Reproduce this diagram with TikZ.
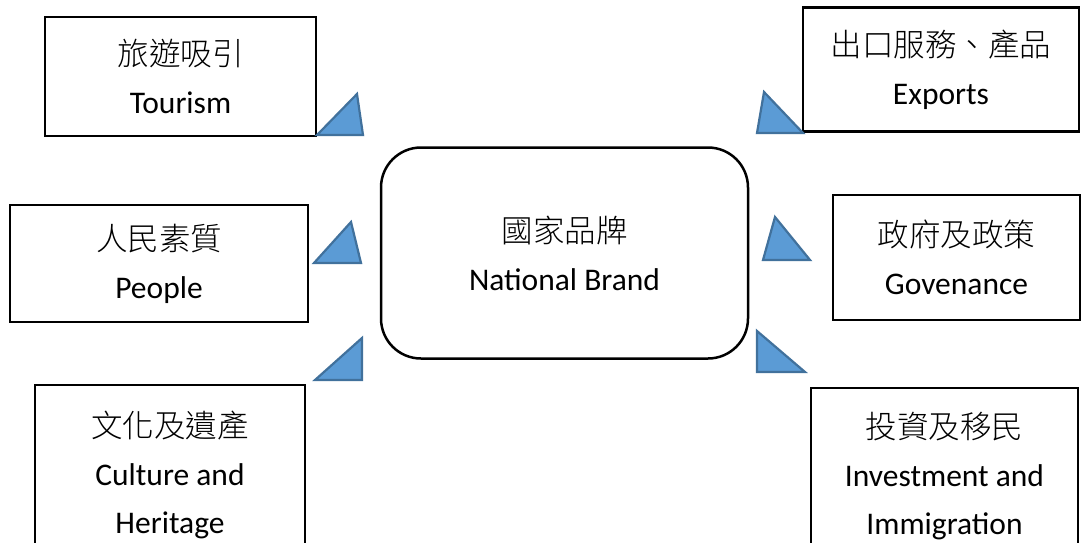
\documentclass[tikz,border=0pt]{standalone}
\usepackage{fontspec}
\setmainfont{Carlito}
\newfontfamily\cjk{Noto Sans CJK TC}[UprightFont=* Light]
\definecolor{trifill}{HTML}{5B9BD5}
\definecolor{tridraw}{HTML}{41719C}
\begin{document}
\begin{tikzpicture}[x=1pt,y=-1pt,
  box/.style={draw=black,line width=2.5pt,fill=white,inner sep=0pt,align=center,
    font=\fontsize{31.5}{48}\selectfont},
  hub/.style={box,rounded corners=40pt},
  tri/.style={fill=trifill,draw=tridraw,line width=2.2pt,line join=miter}]
\useasboundingbox (0,0) rectangle (1092,542);
\clip (0,0) rectangle (1092,542);
\fill[white] (0,0) rectangle (1092,542);
% boxes
\node[box,minimum width=271pt,minimum height=119pt] (tour) at (180.5,76.5) {{\cjk 旅遊吸引}\\Tourism};
\node[box,minimum width=276pt,minimum height=124pt] (exp) at (941,69.5) {{\cjk 出口服務、產品}\\Exports};
\node[box,minimum width=298pt,minimum height=117pt] (peo) at (159,263.5) {{\cjk 人民素質}\\People};
\node[box,minimum width=247pt,minimum height=125pt] (gov) at (956.5,257.5) {{\cjk 政府及政策}\\Govenance};
\node[box,minimum width=270pt,minimum height=180pt] (cul) at (170,475) {{\cjk 文化及遺產}\\Culture and\\Heritage};
\node[box,minimum width=267pt,minimum height=176pt] (inv) at (944.5,476) {{\cjk 投資及移民}\\Investment and\\Immigration};
\node[hub,minimum width=367pt,minimum height=211pt] (nb) at (564.5,253) {{\cjk 國家品牌}\\National Brand};
% triangles
\draw[tri] (317,135) -- (357,94) -- (363,135) -- cycle;
\draw[tri] (757,133) -- (764,92) -- (803,133) -- cycle;
\draw[tri] (314,263) -- (351,222) -- (361,263) -- cycle;
\draw[tri] (763,260) -- (775,217) -- (810,260) -- cycle;
\draw[tri] (315,380) -- (362,338) -- (362,380) -- cycle;
\draw[tri] (757,331) -- (757,372) -- (805,372) -- cycle;
\end{tikzpicture}
\end{document}
